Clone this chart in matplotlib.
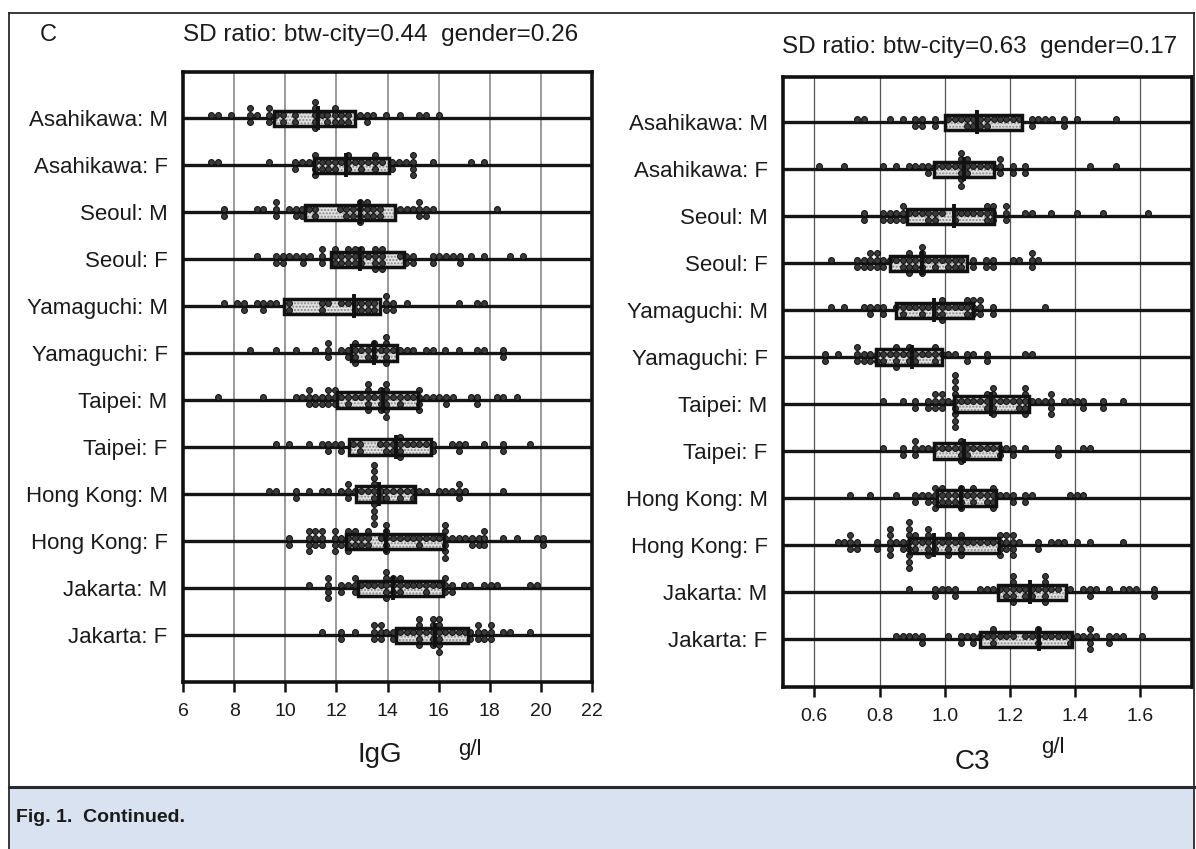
import matplotlib
matplotlib.use('Agg')
import matplotlib.pyplot as plt
from matplotlib.patches import Rectangle
from matplotlib.lines import Line2D

plt.rcParams['font.family'] = ['Liberation Sans', 'DejaVu Sans']

W, H = 1196, 849

# ---------------- data ----------------
row_labels = ["Asahikawa: M", "Asahikawa: F", "Seoul: M", "Seoul: F",
              "Yamaguchi: M", "Yamaguchi: F", "Taipei: M", "Taipei: F",
              "Hong Kong: M", "Hong Kong: F", "Jakarta: M", "Jakarta: F"]

# IgG (g/l): (value, number of stacked dots)
igg_asahikawa_m = [(7.08,1),(7.38,1),(7.87,1),(8.62,3),(8.88,1),(9.38,3),(9.64,1),(9.9,2),(10.4,2),(11.18,5),(11.45,1),(11.64,2),(11.93,3),(12.19,2),(12.46,2),(12.91,1),(13.18,2),(13.44,1),(13.96,1),(14.49,1),(15.25,1),(15.51,1),(16.0,1)]
igg_asahikawa_f = [(7.08,1),(7.38,1),(9.38,1),(10.4,2),(10.66,1),(10.92,1),(11.18,4),(11.45,2),(11.67,2),(11.93,2),(12.19,1),(12.44,3),(12.72,1),(12.98,2),(13.24,1),(13.5,3),(13.77,1),(14.16,2),(14.46,1),(14.72,1),(14.99,4),(15.77,1),(17.28,1),(17.79,1)]
igg_seoul_m = [(7.61,2),(8.88,1),(9.14,1),(9.64,3),(10.16,1),(10.42,2),(10.66,2),(10.92,1),(11.18,2),(12.13,1),(12.39,2),(12.65,2),(12.91,4),(13.18,3),(13.44,2),(13.7,2),(14.49,1),(14.75,1),(14.99,1),(15.25,3),(15.51,2),(15.77,1),(18.29,1)]
igg_seoul_f = [(8.88,1),(9.64,2),(9.9,2),(10.16,1),(10.42,1),(10.69,2),(10.95,1),(11.45,3),(11.93,3),(12.19,2),(12.46,3),(12.72,3),(12.98,3),(13.24,1),(13.5,4),(13.77,4),(14.49,1),(14.72,2),(14.99,2),(15.77,2),(16.03,1),(16.3,1),(16.56,1),(16.82,2),(17.28,1),(17.79,1),(18.81,1),(19.31,1)]
igg_yamaguchi_m = [(7.61,1),(8.13,1),(8.39,2),(8.88,1),(9.14,2),(9.4,1),(9.64,1),(10.16,2),(11.45,2),(11.67,1),(12.19,1),(12.46,1),(12.72,2),(12.98,2),(13.22,2),(13.48,2),(13.96,3),(14.23,2),(14.75,1),(16.78,1),(17.5,1),(17.76,1)]
igg_yamaguchi_f = [(8.62,1),(9.64,1),(10.42,1),(11.18,1),(11.67,3),(12.19,1),(12.46,2),(12.72,4),(12.98,1),(13.22,2),(13.48,3),(13.74,1),(13.96,5),(14.23,1),(14.49,1),(14.75,1),(15.01,1),(15.51,1),(15.77,1),(16.26,1),(16.78,1),(17.5,1),(17.76,1),(18.52,2)]
igg_taipei_m = [(7.38,1),(9.14,1),(10.42,1),(10.66,1),(10.92,3),(11.18,2),(11.45,2),(11.67,3),(11.93,3),(12.19,1),(12.46,2),(12.72,1),(12.98,1),(13.22,5),(13.48,1),(13.74,4),(13.96,6),(14.23,1),(14.49,2),(14.75,1),(14.99,1),(15.25,4),(15.51,1),(15.77,1),(16.03,1),(16.28,2),(16.56,1),(17.28,1),(17.5,2),(18.29,1),(18.52,1),(19.05,1)]
igg_taipei_f = [(9.64,1),(10.16,1),(10.92,1),(11.45,1),(11.67,2),(11.93,1),(12.19,2),(12.65,1),(12.91,2),(13.7,1),(13.96,2),(14.23,2),(14.49,4),(14.75,1),(14.99,1),(15.25,1),(15.51,1),(15.77,2),(16.52,1),(16.78,2),(17.04,1),(17.79,1),(18.52,2),(19.57,1)]
igg_hongkong_m = [(9.38,1),(9.64,1),(10.42,2),(10.92,1),(11.45,1),(11.67,1),(12.19,1),(12.46,3),(12.72,1),(12.98,1),(13.22,1),(13.48,10),(13.74,2),(13.96,2),(14.23,1),(14.49,2),(14.75,1),(14.99,2),(15.25,1),(15.51,1),(16.03,1),(16.26,1),(16.52,1),(16.78,3),(17.04,1),(18.52,1)]
igg_hongkong_f = [(10.16,2),(10.92,4),(11.18,3),(11.45,3),(11.93,4),(12.19,2),(12.46,4),(12.72,3),(12.98,2),(13.22,3),(13.74,1),(13.96,5),(14.23,1),(14.49,1),(14.75,1),(14.99,1),(15.25,2),(15.51,1),(15.77,1),(16.03,1),(16.26,6),(16.52,1),(16.78,1),(17.04,1),(17.3,2),(17.57,2),(17.79,3),(18.52,1),(19.05,1),(19.83,1),(20.1,2)]
igg_jakarta_m = [(10.92,1),(11.67,4),(12.19,2),(12.46,1),(12.72,3),(12.98,1),(13.22,1),(13.48,1),(13.74,1),(13.96,5),(14.23,3),(14.49,3),(14.75,1),(14.99,1),(15.25,1),(15.51,2),(15.77,1),(16.03,1),(16.26,3),(16.52,2),(16.98,1),(17.24,1),(17.79,1),(18.03,1),(18.29,1),(19.57,1),(19.83,1)]
igg_jakarta_f = [(11.45,1),(12.19,2),(12.72,1),(13.48,3),(13.74,3),(13.96,1),(14.23,2),(14.49,1),(14.75,1),(14.99,1),(15.25,5),(15.51,1),(15.77,5),(16.03,6),(16.26,1),(16.52,1),(16.78,1),(17.04,1),(17.24,2),(17.54,3),(17.79,2),(18.03,3),(18.52,1),(18.79,1),(19.57,1)]

igg_q1 = [9.57, 11.12, 10.79, 11.80, 9.97, 12.59, 12.02, 12.50, 12.78, 12.39, 12.85, 14.33]
igg_med = [11.28, 12.39, 12.91, 12.91, 12.68, 13.47, 13.81, 14.33, 13.66, 13.96, 14.20, 15.86]
igg_q3 = [12.72, 14.07, 14.29, 14.64, 13.70, 14.38, 15.21, 15.69, 15.08, 16.22, 16.19, 17.13]

# C3 (g/l)
c3_asahikawa_m = [(0.731,1),(0.751,1),(0.831,1),(0.872,1),(0.91,2),(0.93,2),(0.971,2),(1.01,1),(1.03,1),(1.05,1),(1.068,2),(1.088,2),(1.109,2),(1.129,2),(1.15,1),(1.168,1),(1.188,1),(1.209,1),(1.229,1),(1.267,2),(1.287,1),(1.308,1),(1.328,1),(1.366,2),(1.405,1),(1.525,1)]
c3_asahikawa_f = [(0.613,1),(0.692,1),(0.81,1),(0.851,1),(0.889,1),(0.91,1),(0.93,1),(0.95,2),(0.971,1),(0.991,1),(1.01,1),(1.03,1),(1.05,6),(1.068,3),(1.088,1),(1.109,1),(1.129,1),(1.147,1),(1.168,3),(1.209,2),(1.247,2),(1.446,1),(1.525,1)]
c3_seoul_m = [(0.751,2),(0.81,2),(0.831,2),(0.851,2),(0.872,3),(0.889,1),(0.91,1),(0.93,1),(0.95,2),(0.971,2),(0.991,1),(1.03,2),(1.05,1),(1.068,1),(1.088,1),(1.109,1),(1.129,3),(1.147,3),(1.188,3),(1.247,1),(1.267,1),(1.326,1),(1.405,1),(1.485,1),(1.624,1)]
c3_seoul_f = [(0.651,1),(0.731,2),(0.751,2),(0.772,3),(0.792,3),(0.81,2),(0.831,1),(0.851,1),(0.872,2),(0.889,4),(0.91,2),(0.93,5),(0.95,1),(0.971,2),(0.991,1),(1.01,2),(1.03,2),(1.05,2),(1.088,2),(1.127,2),(1.147,2),(1.209,1),(1.229,1),(1.267,3),(1.287,1)]
c3_yamaguchi_m = [(0.651,1),(0.692,1),(0.751,1),(0.772,2),(0.792,1),(0.812,2),(0.851,1),(0.872,2),(0.889,1),(0.91,1),(0.93,2),(0.95,1),(0.971,2),(0.991,4),(1.01,1),(1.03,1),(1.05,1),(1.068,3),(1.088,3),(1.109,3),(1.147,2),(1.306,1)]
c3_yamaguchi_f = [(0.634,2),(0.672,1),(0.731,3),(0.751,2),(0.772,2),(0.792,2),(0.81,2),(0.831,1),(0.851,4),(0.872,1),(0.889,3),(0.91,2),(0.93,1),(0.95,1),(0.971,3),(0.991,1),(1.01,1),(1.03,1),(1.068,2),(1.088,1),(1.129,2),(1.247,1),(1.267,1)]
c3_taipei_m = [(0.81,1),(0.872,1),(0.91,2),(0.95,2),(0.971,3),(0.991,3),(1.01,1),(1.03,9),(1.05,1),(1.068,1),(1.088,1),(1.109,1),(1.129,3),(1.147,5),(1.168,1),(1.188,1),(1.209,1),(1.229,2),(1.247,5),(1.267,1),(1.287,1),(1.306,1),(1.326,4),(1.366,1),(1.384,1),(1.405,1),(1.423,2),(1.485,2),(1.546,1)]
c3_taipei_f = [(0.81,1),(0.872,2),(0.91,3),(0.93,1),(0.95,1),(0.971,1),(0.991,1),(1.01,1),(1.03,1),(1.05,4),(1.068,2),(1.088,1),(1.109,1),(1.129,1),(1.147,1),(1.168,2),(1.188,1),(1.209,2),(1.247,1),(1.347,2),(1.423,1),(1.446,1)]
c3_hongkong_m = [(0.71,1),(0.772,1),(0.851,1),(0.91,2),(0.93,1),(0.95,2),(0.971,4),(0.991,3),(1.01,2),(1.03,2),(1.05,4),(1.068,1),(1.088,3),(1.109,1),(1.129,2),(1.147,4),(1.168,1),(1.188,1),(1.209,2),(1.247,2),(1.267,1),(1.384,1),(1.405,1),(1.423,1)]
c3_hongkong_f = [(0.672,1),(0.692,1),(0.71,3),(0.731,2),(0.792,2),(0.831,5),(0.851,1),(0.872,2),(0.889,8),(0.91,3),(0.93,1),(0.95,5),(0.971,2),(0.991,1),(1.01,4),(1.03,1),(1.05,4),(1.068,1),(1.088,1),(1.109,1),(1.129,1),(1.147,1),(1.168,4),(1.188,3),(1.209,4),(1.229,1),(1.287,2),(1.326,1),(1.347,1),(1.366,1),(1.405,1),(1.446,1),(1.546,1)]
c3_jakarta_m = [(0.889,1),(0.971,2),(0.991,1),(1.01,1),(1.03,2),(1.109,1),(1.129,1),(1.147,1),(1.168,1),(1.188,2),(1.209,5),(1.229,1),(1.247,2),(1.267,2),(1.287,1),(1.306,5),(1.326,1),(1.347,1),(1.384,1),(1.423,1),(1.444,2),(1.464,1),(1.505,1),(1.546,1),(1.566,1),(1.587,1),(1.643,2)]
c3_jakarta_f = [(0.851,1),(0.872,1),(0.889,1),(0.91,1),(0.93,2),(1.01,1),(1.05,2),(1.068,1),(1.088,2),(1.109,1),(1.129,1),(1.147,3),(1.168,1),(1.188,1),(1.209,1),(1.247,1),(1.267,1),(1.287,3),(1.306,1),(1.326,1),(1.347,1),(1.366,1),(1.384,2),(1.405,1),(1.423,1),(1.444,4),(1.464,1),(1.505,2),(1.525,1),(1.546,1),(1.604,1)]

c3_q1 = [1.000, 0.968, 0.884, 0.833, 0.851, 0.790, 1.029, 0.966, 0.976, 0.889, 1.163, 1.109]
c3_med = [1.100, 1.060, 1.029, 0.930, 0.968, 0.900, 1.141, 1.058, 1.050, 0.966, 1.260, 1.290]
c3_q3 = [1.238, 1.150, 1.150, 1.068, 1.086, 0.991, 1.257, 1.170, 1.158, 1.167, 1.372, 1.390]

igg_rows = [igg_asahikawa_m, igg_asahikawa_f, igg_seoul_m, igg_seoul_f, igg_yamaguchi_m, igg_yamaguchi_f,
            igg_taipei_m, igg_taipei_f, igg_hongkong_m, igg_hongkong_f, igg_jakarta_m, igg_jakarta_f]
c3_rows = [c3_asahikawa_m, c3_asahikawa_f, c3_seoul_m, c3_seoul_f, c3_yamaguchi_m, c3_yamaguchi_f,
           c3_taipei_m, c3_taipei_f, c3_hongkong_m, c3_hongkong_f, c3_jakarta_m, c3_jakarta_f]

igg_ticks = [6, 8, 10, 12, 14, 16, 18, 20, 22]
igg_long_ticks = [10, 20]
igg_grid = [8, 10, 12, 14, 16, 18, 20]
c3_ticks = [0.6, 0.8, 1.0, 1.2, 1.4, 1.6]
c3_tick_labels = ["0.6", "0.8", "1.0", "1.2", "1.4", "1.6"]
c3_long_ticks = [1.0]
c3_grid = [0.6, 0.8, 1.0, 1.2, 1.4, 1.6]

title_igg = "SD ratio: btw-city=0.44  gender=0.26"
title_c3 = "SD ratio: btw-city=0.63  gender=0.17"

# ---------------- drawing ----------------
ROW_PX = 47.0
fig = plt.figure(figsize=(W / 100, H / 100), dpi=100)


def fx(x):
    return x / W


def fy(y):
    return 1 - y / H


def make_axes(x0, y0, x1, y1):
    return fig.add_axes([fx(x0), fy(y1), (x1 - x0) / W, (y1 - y0) / H])


def draw_panel(ax, rows, q1, med, q3, xlim, grid, grid_color, grid_lw,
               ticks, tick_labels, long_ticks, top_px, bot_px, row0_px):
    ax.set_xlim(*xlim)
    ytop = -(row0_px - top_px) / ROW_PX
    ybot = ytop + (bot_px - top_px) / ROW_PX
    ax.set_ylim(ybot, ytop)
    dy = 6.6 / ROW_PX
    box_half = 7.8 / ROW_PX
    med_half = 12.0 / ROW_PX
    for g in grid:
        ax.axvline(g, color=grid_color, lw=grid_lw, zorder=1)
    for i, pairs in enumerate(rows):
        ax.axhline(i, color='#151515', lw=2.4, zorder=1.5)
        xs, ys = [], []
        for v, n in pairs:
            for k in range(n):
                level = k // 2 + 0.5
                sign = -1 if k % 2 == 0 else 1
                xs.append(v)
                ys.append(i + sign * level * dy)
        ax.add_patch(Rectangle((q1[i], i - box_half), q3[i] - q1[i], 2 * box_half,
                               facecolor='#e2e2e2', edgecolor='#888888', hatch='.....',
                               lw=0, zorder=2))
        ax.scatter(xs, ys, s=18, facecolor='#3a3a3a', edgecolor='#0d0d0d',
                   linewidths=0.7, zorder=3)
        ax.add_patch(Rectangle((q1[i], i - box_half), q3[i] - q1[i], 2 * box_half,
                               fill=False, edgecolor='#111111', lw=2.5, zorder=4))
        ax.add_line(Line2D([med[i], med[i]], [i - med_half, i + med_half],
                           color='#111111', lw=2.8, zorder=5, solid_capstyle='butt'))
    ax.set_yticks(range(len(rows)))
    ax.set_yticklabels(row_labels, fontsize=16, color='#1a1a1a')
    ax.tick_params(axis='y', length=0, pad=11)
    ax.set_xticks(ticks)
    ax.set_xticklabels(tick_labels, fontsize=14, color='#1a1a1a')
    ax.set_xticks(long_ticks, minor=True)
    ax.tick_params(axis='x', which='major', direction='out', length=7, width=1.8,
                   pad=8, color='#111111')
    ax.tick_params(axis='x', which='minor', direction='out', length=10, width=1.8,
                   color='#111111')
    for sp in ax.spines.values():
        sp.set_linewidth(2.6)
        sp.set_color('#111111')
        sp.set_zorder(6)


ax1 = make_axes(183, 72, 592, 682)
draw_panel(ax1, igg_rows, igg_q1, igg_med, igg_q3, (6, 22), igg_grid, '#7d7d7d', 1.1,
           igg_ticks, [str(t) for t in igg_ticks], igg_long_ticks, 72, 682, 118.3)

ax2 = make_axes(783, 77, 1192, 687)
draw_panel(ax2, c3_rows, c3_q1, c3_med, c3_q3, (0.504, 1.758), c3_grid, '#555555', 0.9,
           c3_ticks, c3_tick_labels, c3_long_ticks, 77, 687, 122.3)

# titles and labels
fig.text(fx(381), fy(35), title_igg, fontsize=17.5, ha='center', va='center', color='#1a1a1a')
fig.text(fx(980), fy(47), title_c3, fontsize=17.5, ha='center', va='center', color='#1a1a1a')
fig.text(fx(48), fy(35), "C", fontsize=17, ha='center', va='center', color='#1a1a1a')
fig.text(fx(380), fy(755), "IgG", fontsize=20, ha='center', va='center', color='#1a1a1a')
fig.text(fx(470), fy(749), "g/l", fontsize=16, ha='center', va='center', color='#1a1a1a')
fig.text(fx(972), fy(762), "C3", fontsize=20, ha='center', va='center', color='#1a1a1a')
fig.text(fx(1053), fy(748), "g/l", fontsize=16, ha='center', va='center', color='#1a1a1a')

# caption band and outer border
fig.patches.append(Rectangle((fx(9), 0), fx(1194) - fx(9), fy(787), transform=fig.transFigure,
                             facecolor='#d8e2f0', edgecolor='none', zorder=0))
fig.add_artist(Line2D([fx(9), fx(1194)], [fy(787), fy(787)], color='#2a2a2a', lw=2.2))
fig.add_artist(Line2D([fx(9), fx(9)], [fy(13), 0], color='#2a2a2a', lw=1.3))
fig.add_artist(Line2D([fx(1194), fx(1194)], [fy(13), 0], color='#2a2a2a', lw=1.3))
fig.add_artist(Line2D([fx(9), fx(1194)], [fy(13), fy(13)], color='#2a2a2a', lw=1.3))
fig.text(fx(16), fy(818), "Fig. 1.  Continued.", fontsize=14, fontweight='bold',
         family=['Liberation Sans Narrow', 'Liberation Sans', 'DejaVu Sans'],
         ha='left', va='center', color='#1a1a1a')

fig.savefig('out.png', dpi=100)
